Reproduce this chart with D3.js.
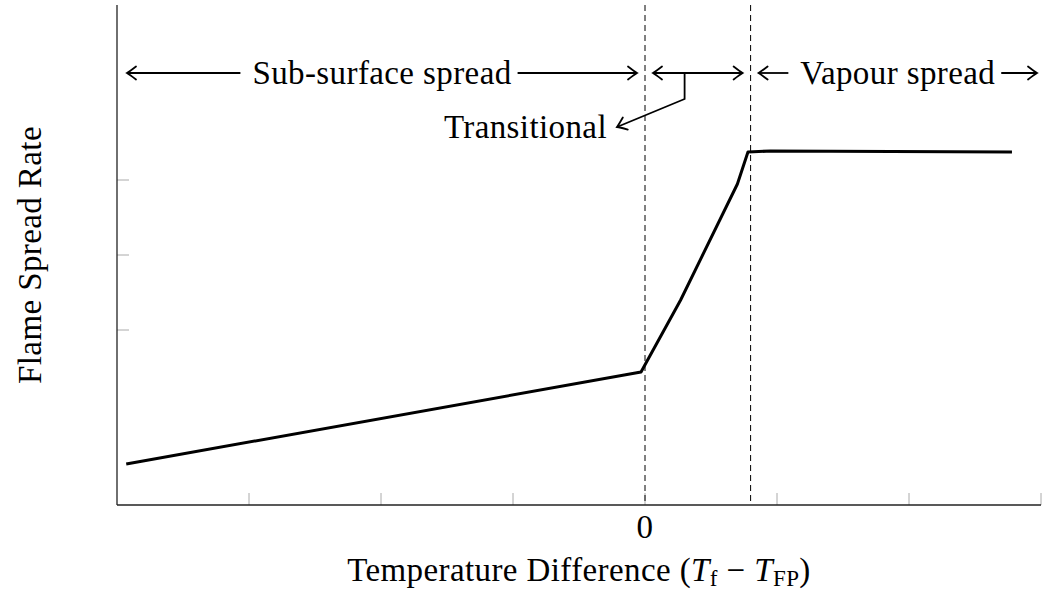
<!DOCTYPE html>
<html>
<head>
<meta charset="utf-8">
<script src="https://cdn.jsdelivr.net/npm/d3@7"></script>
<style>
  html, body { margin: 0; padding: 0; background: #fff; }
  svg text { font-family: "Liberation Serif", "DejaVu Serif", serif; fill: #000; letter-spacing: 0.4px; }
</style>
</head>
<body>
<svg id="chart" width="1043" height="591"></svg>
<script>
// Flame spread rate versus temperature difference (schematic)
const tempDiff   = [-3.93, -0.03, 0.27, 0.70, 0.78, 0.95, 2.78];
const spreadRate = [0.082, 0.266, 0.41, 0.642, 0.706, 0.708, 0.706];

const xTicks = [-3, -2, -1, 0, 1, 2, 3];
const xTickLabels = ["", "", "", "0", "", "", ""];
const yTicks = [0.35, 0.5, 0.65];

// regime boundaries on the temperature axis
const boundaries = [0, 0.8];
const regimeLabels = ["Sub-surface spread", "Transitional", "Vapour spread"];

const svg = d3.select("#chart");
const x = d3.scaleLinear().domain([-4, 3]).range([117, 1041]);
const y = d3.scaleLinear().domain([0, 1]).range([505, 5]);

// ticks (inside, grey)
const tickLen = 12;
svg.append("g").selectAll("line").data(xTicks).join("line")
  .attr("x1", d => x(d)).attr("x2", d => x(d))
  .attr("y1", y(0)).attr("y2", y(0) - tickLen)
  .attr("stroke", "#aaa").attr("stroke-width", 1);
svg.append("g").selectAll("line").data(yTicks).join("line")
  .attr("x1", x(-4)).attr("x2", x(-4) + tickLen)
  .attr("y1", d => y(d)).attr("y2", d => y(d))
  .attr("stroke", "#aaa").attr("stroke-width", 1);

const fs = 33;

// tick labels
svg.append("g").selectAll("text").data(xTicks).join("text")
  .attr("x", d => x(d)).attr("y", 538)
  .attr("text-anchor", "middle").attr("font-size", fs)
  .text((d, i) => xTickLabels[i]);

// axis lines
svg.append("line").attr("x1", x(-4)).attr("x2", x(-4))
  .attr("y1", y(1)).attr("y2", y(0)).attr("stroke", "#222").attr("stroke-width", 1.3);
svg.append("line").attr("x1", x(-4)).attr("x2", x(3))
  .attr("y1", y(0)).attr("y2", y(0)).attr("stroke", "#222").attr("stroke-width", 1.3);

// regime boundary lines
svg.append("g").selectAll("line").data(boundaries).join("line")
  .attr("x1", d => x(d)).attr("x2", d => x(d))
  .attr("y1", y(1)).attr("y2", y(0))
  .attr("stroke", "#000").attr("stroke-width", 1)
  .attr("stroke-dasharray", "6,4");

// curve
const line = d3.line().x(d => x(d[0])).y(d => y(d[1]));
svg.append("path")
  .datum(tempDiff.map((t, i) => [t, spreadRate[i]]))
  .attr("d", line)
  .attr("fill", "none").attr("stroke", "#000")
  .attr("stroke-width", 3).attr("stroke-linejoin", "round");

// arrowhead: curved barbs, tip at (tx,ty), pointing along angle a
function arrowHead(g, tx, ty, a) {
  const L = 9, W = 6.5;
  const c = Math.cos(a), s = Math.sin(a);
  const p = (u, v) => [tx + u * c - v * s, ty + u * s + v * c];
  const b1 = p(-L, -W), b2 = p(-L, W), m1 = p(-L * 0.25, -W * 0.2), m2 = p(-L * 0.25, W * 0.2);
  g.append("path")
    .attr("d", `M${b1}Q${m1} ${tx},${ty}Q${m2} ${b2}`)
    .attr("fill", "none").attr("stroke", "#000").attr("stroke-width", 1.8)
    .attr("stroke-linecap", "round");
}
function hArrow(g, x1, x2, yy, headLeft, headRight) {
  g.append("line").attr("x1", x1).attr("x2", x2).attr("y1", yy).attr("y2", yy)
    .attr("stroke", "#000").attr("stroke-width", 1.8);
  if (headLeft) arrowHead(g, x1, yy, Math.PI);
  if (headRight) arrowHead(g, x2, yy, 0);
}

const ann = svg.append("g");
const rowY = 73;

// labelled span with arrows from each tip to the text
function span(label, xa, xb) {
  const cx = (xa + xb) / 2;
  const t = ann.append("text").attr("x", cx).attr("y", rowY + 11)
    .attr("text-anchor", "middle").attr("font-size", fs).text(label);
  const w = t.node().getComputedTextLength();
  hArrow(ann, xa, cx - w / 2 - 12, rowY, true, false);
  hArrow(ann, cx + w / 2 + 6, xb, rowY, false, true);
}
span(regimeLabels[0], x(-4) + 10, x(boundaries[0]) - 8);
span(regimeLabels[2], x(boundaries[1]) + 8, x(3) - 4);

// transitional band
const ta = x(boundaries[0]) + 8, tb = x(boundaries[1]) - 8;
hArrow(ann, ta, tb, rowY, true, true);
const stemX = x(0.3);
const tipX = 617, tipY = 127;
ann.append("path")
  .attr("d", `M${stemX},${rowY}V${rowY + 26}L${tipX},${tipY}`)
  .attr("fill", "none").attr("stroke", "#000").attr("stroke-width", 1.8)
  .attr("stroke-linejoin", "miter");
arrowHead(ann, tipX, tipY, Math.atan2(tipY - (rowY + 26), tipX - stemX));
ann.append("text").attr("x", tipX - 10).attr("y", tipY + 11)
  .attr("text-anchor", "end").attr("font-size", fs).text(regimeLabels[1]);

// axis titles
svg.append("text")
  .attr("transform", `translate(41,${y(0.5)}) rotate(-90)`)
  .attr("text-anchor", "middle").attr("font-size", fs)
  .text("Flame Spread Rate");

const xt = svg.append("text")
  .attr("x", (x(-4) + x(3)) / 2).attr("y", 581)
  .attr("text-anchor", "middle").attr("font-size", fs);
xt.append("tspan").text("Temperature Difference (");
xt.append("tspan").attr("font-style", "italic").text("T");
xt.append("tspan").attr("font-size", 23).attr("dy", 5).text("f");
xt.append("tspan").attr("dy", -5).text(" \u2212 ");
xt.append("tspan").attr("font-style", "italic").text("T");
xt.append("tspan").attr("font-size", 23).attr("dy", 5).text("FP");
xt.append("tspan").attr("dy", -5).text(")");
</script>
</body>
</html>
